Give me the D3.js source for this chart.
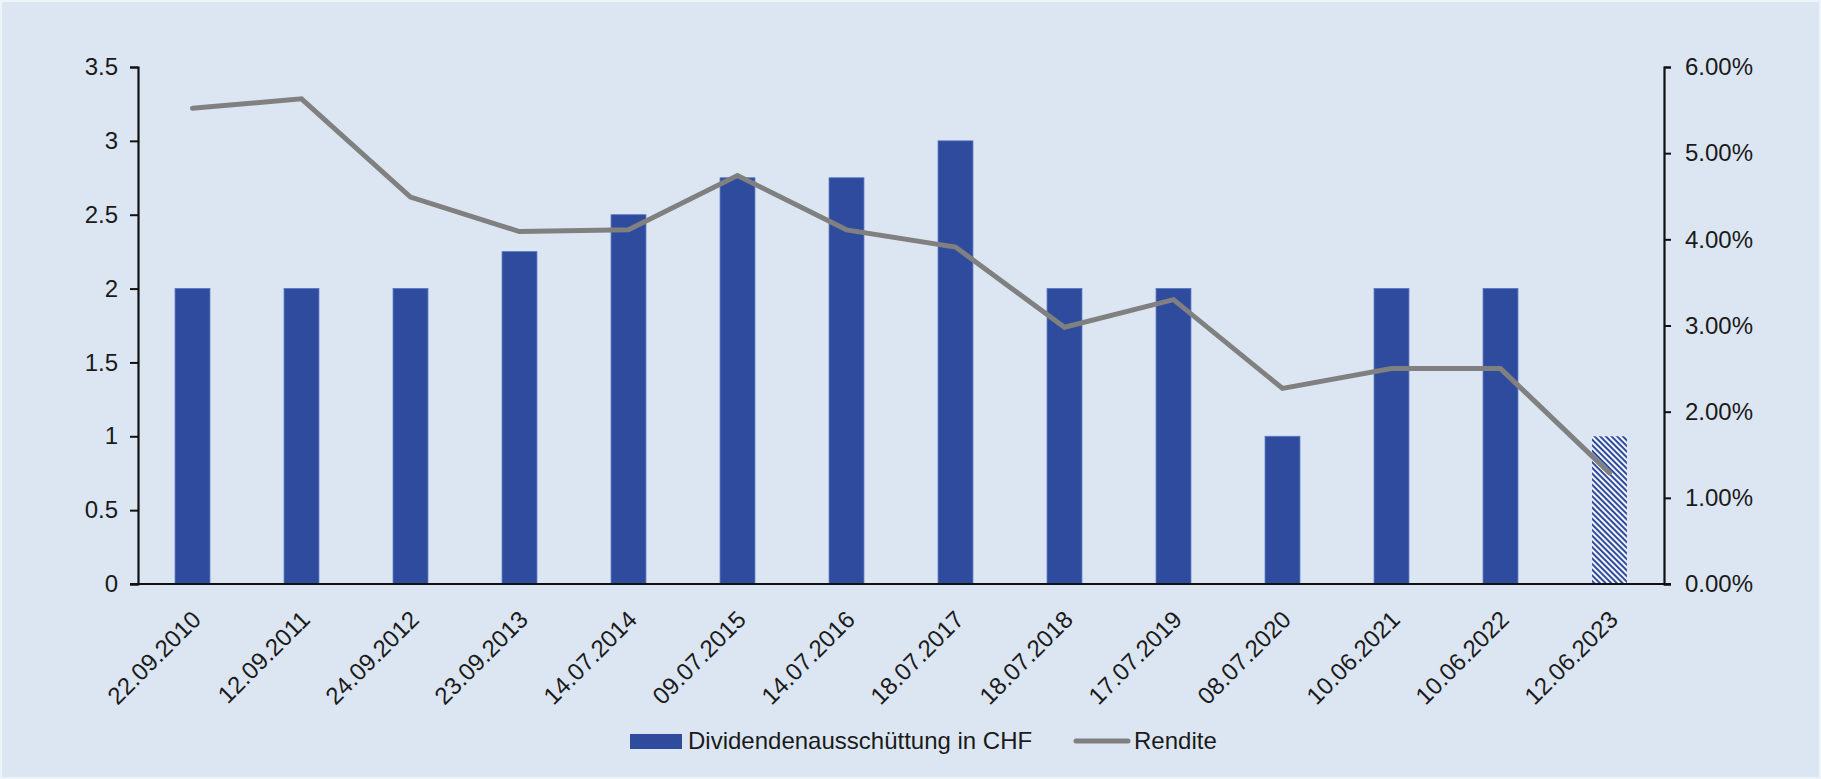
<!DOCTYPE html>
<html>
<head>
<meta charset="utf-8">
<script src="https://cdn.jsdelivr.net/npm/d3@7"></script>
<style>
  body { margin: 0; background: #dce6f2; }
  text { font-family: "Liberation Sans", Arial, sans-serif; fill: #1a1a1a; }
</style>
</head>
<body>
<div id="chart"></div>
<script>
var dates = ["22.09.2010", "12.09.2011", "24.09.2012", "23.09.2013", "14.07.2014", "09.07.2015", "14.07.2016",
    "18.07.2017", "18.07.2018", "17.07.2019", "08.07.2020", "10.06.2021", "10.06.2022", "12.06.2023"];
var dividends = [2, 2, 2, 2.25, 2.5, 2.75, 2.75, 3, 2, 2, 1, 2, 2, 1];
var yields = [5.52, 5.63, 4.49, 4.09, 4.11, 4.74, 4.11, 3.91, 2.98, 3.30, 2.27, 2.50, 2.50, 1.29];
var projected = ["12.06.2023"];
var leftTicks = [0, 0.5, 1, 1.5, 2, 2.5, 3, 3.5];
var rightTicks = [0, 1, 2, 3, 4, 5, 6];
var seriesNames = ["Dividendenausschüttung in CHF", "Rendite"];

var W = 1821, H = 779;
var plotL = 138, plotR = 1664, plotT = 67, plotB = 584;
var blue = "#2e4b9e", grey = "#808080";

var svg = d3.select("#chart").append("svg").attr("width", W).attr("height", H);
svg.append("rect").attr("x", 1).attr("y", 1).attr("width", W - 2).attr("height", H - 2)
    .attr("fill", "#dce6f2").attr("stroke", "#eef3f9").attr("stroke-width", 2);

var pat = svg.append("defs").append("pattern").attr("id", "hatch")
    .attr("patternUnits", "userSpaceOnUse").attr("width", 4).attr("height", 4)
    .attr("patternTransform", "rotate(45)");
pat.append("rect").attr("width", 4).attr("height", 4).attr("fill", "#ffffff");
pat.append("rect").attr("width", 4).attr("height", 2.1).attr("fill", blue);

var x = d3.scaleBand().domain(dates).range([plotL, plotR]).paddingInner(0.68).paddingOuter(0.34);
var y = d3.scaleLinear().domain([0, 3.5]).range([plotB, plotT]);
var y2 = d3.scaleLinear().domain([0, 6]).range([plotB, plotT]);

// bars
svg.selectAll(".bar").data(dates).enter().append("rect").attr("class", "bar")
    .attr("x", d => x(d))
    .attr("y", (d, i) => y(dividends[i]))
    .attr("width", x.bandwidth())
    .attr("height", (d, i) => y(0) - y(dividends[i]))
    .attr("fill", d => projected.includes(d) ? "url(#hatch)" : blue)
    .attr("stroke", d => projected.includes(d) ? "none" : "#5673c0")
    .attr("stroke-width", 0.8);

// axes
var yAxis = svg.append("g").attr("transform", "translate(" + plotL + ",0)")
    .call(d3.axisLeft(y).tickValues(leftTicks).tickSize(8).tickPadding(12).tickFormat(d => String(d)));
var y2Axis = svg.append("g").attr("transform", "translate(" + plotR + ",0)")
    .call(d3.axisRight(y2).tickValues(rightTicks).tickSize(7).tickPadding(14).tickFormat(d => d.toFixed(2) + "%"));
[yAxis, y2Axis].forEach(function(a) {
    a.select(".domain").attr("stroke", "#111").attr("stroke-width", 2.2);
    a.selectAll(".tick line").attr("stroke", "#111").attr("stroke-width", 2);
    a.selectAll(".tick text").attr("font-size", 24).attr("fill", "#1a1a1a")
        .style("font-family", '"Liberation Sans", Arial, sans-serif');
});
svg.append("line").attr("x1", plotL - 8).attr("x2", plotR + 7).attr("y1", y(0)).attr("y2", y(0))
    .attr("stroke", "#111").attr("stroke-width", 2.2);

// x labels
svg.selectAll(".xl").data(dates).enter().append("text").attr("class", "xl")
    .attr("transform", d => "translate(" + (x(d) + x.bandwidth() / 2 + 4) + "," + (plotB + 31) + ") rotate(-45)")
    .attr("text-anchor", "end").attr("dy", "0.35em").attr("font-size", 24)
    .text(d => d);

// line
var line = d3.line().x(d => x(d) + x.bandwidth() / 2).y((d, i) => y2(yields[i]));
svg.append("path").datum(dates).attr("d", line)
    .attr("fill", "none").attr("stroke", grey).attr("stroke-width", 5)
    .attr("stroke-linejoin", "miter").attr("stroke-linecap", "round");

// legend
var ly = 741;
svg.append("rect").attr("x", 630).attr("y", ly - 7).attr("width", 52).attr("height", 15).attr("fill", blue);
svg.append("text").attr("x", 688).attr("y", ly).attr("dy", "0.35em").attr("font-size", 24).text(seriesNames[0]);
svg.append("line").attr("x1", 1076).attr("x2", 1128).attr("y1", ly).attr("y2", ly)
    .attr("stroke", grey).attr("stroke-width", 5).attr("stroke-linecap", "round");
svg.append("text").attr("x", 1134).attr("y", ly).attr("dy", "0.35em").attr("font-size", 24).text(seriesNames[1]);
</script>
</body>
</html>
